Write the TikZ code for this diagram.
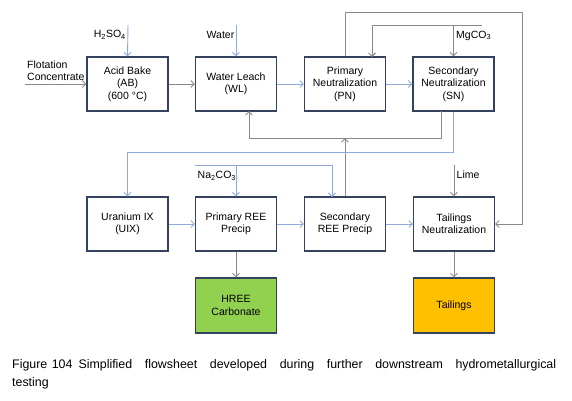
\documentclass[tikz,border=0pt]{standalone}
\usepackage{fontspec}
\setmainfont{Liberation Sans}
\usetikzlibrary{arrows.meta}
\definecolor{boxline}{HTML}{34425F}
\definecolor{grayline}{HTML}{8A8A8A}
\definecolor{blueline}{HTML}{8EAADB}
\definecolor{hreegreen}{HTML}{92D050}
\definecolor{tailorange}{HTML}{FFC000}
\begin{document}
\begin{tikzpicture}[x=1pt,y=-1pt,
  >={Straight Barb[length=3.5pt,width=7pt]},
  proc/.style={draw=boxline,line width=1.1pt,minimum width=81pt,minimum height=54pt,
    inner sep=1pt,align=center,font=\fontsize{10.5}{12.3}\selectfont},
  gline/.style={draw=grayline,line width=0.9pt,->},
  bline/.style={draw=blueline,line width=0.9pt,->},
  lbl/.style={inner sep=0pt,font=\fontsize{10.5}{12.3}\selectfont}]
\useasboundingbox (0,0) rectangle (572,400);
% row 1
\node[proc] (AB) at (127.5,84) {Acid Bake\\(AB)\\(600 °C)};
\node[proc] (WL) at (236,84) {Water Leach\\(WL)};
\node[proc] (PN) at (345,84) {Primary\\Neutralization\\(PN)};
\node[proc] (SN) at (453.5,84) {Secondary\\Neutralization\\(SN)};
% row 2
\node[proc] (UIX) at (127.5,224) {Uranium IX\\(UIX)};
\node[proc] (PREE) at (236,224) {Primary REE\\Precip};
\node[proc] (SREE) at (345,224) {Secondary\\REE Precip};
\node[proc] (TN) at (454,224) {Tailings\\Neutralization};
% row 3
\node[proc,fill=hreegreen,minimum height=55pt] (HREE) at (236,305.5) {HREE\\Carbonate};
\node[proc,fill=tailorange,minimum height=55pt] (TAIL) at (454,305.5) {Tailings};

% feeds
\coordinate (fc) at (25,84);
\node[lbl,anchor=west,align=left] (fclbl) at (27,71) {Flotation\\Concentrate};
\draw[gline] (fc) -- (AB.west);
\coordinate (h2) at (128,25);
\node[lbl,anchor=east] (h2lbl) at (126,35) {H\textsubscript{2}SO\textsubscript{4}};
\draw[bline] (h2) -- (AB.north);
\coordinate (wa) at (236,25);
\node[lbl,anchor=east] (walbl) at (234.5,35) {Water};
\draw[bline] (wa) -- (WL.north);

% row 1 flow
\draw[gline] (AB.east) -- (WL.west);
\draw[bline] (WL.east) -- (PN.west);
\draw[bline] (PN.east) -- (SN.west);

% top loop PN -> TN
\coordinate (t1) at (345,12);
\coordinate (t2) at (522,12);
\draw[gline] (PN.north) -- (t1) -- (t2) |- (TN.east);

% MgCO3
\coordinate (mg) at (482,25);
\coordinate (pnin) at (372,57);
\coordinate (mgs) at (453.5,25);
\draw[gline] (mg) -| (pnin);
\draw[gline] (mgs) -- (SN.north);
\node[lbl,anchor=west] (mglbl) at (456,35.5) {MgCO\textsubscript{3}};

% SN recycle to WL
\coordinate (snout) at (441,111);
\coordinate (rj) at (441,138);
\coordinate (wlin) at (249,111);
\draw[gline] (snout) -- (rj) -| (wlin);
\draw[gline] (SREE.north) -- (SREE.north |- rj);

% SN to UIX
\coordinate (bj) at (453.5,152);
\draw[bline] (SN.south) -- (bj) -| (UIX.north);

% Na2CO3
\coordinate (na) at (195,165);
\coordinate (na2) at (332,165);
\coordinate (sreein) at (332,197);
\coordinate (nap) at (236,165);
\draw[bline] (na) -- (na2) -- (sreein);
\draw[bline] (nap) -- (PREE.north);
\node[lbl,anchor=west] (nalbl) at (197.5,176) {Na\textsubscript{2}CO\textsubscript{3}};

% Lime
\coordinate (li) at (454,165);
\draw[gline] (li) -- (TN.north);
\node[lbl,anchor=west] (lilbl) at (456.5,175) {Lime};

% row 2 flow
\draw[bline] (UIX.east) -- (PREE.west);
\draw[bline] (PREE.east) -- (SREE.west);
\draw[bline] (SREE.east) -- (TN.west);
\draw[gline] (PREE.south) -- (HREE.north);
\draw[gline] (TN.south) -- (TAIL.north);

% caption
\node[anchor=north west,inner sep=0pt,text width=544pt,align=justify,
  font=\fontsize{12.4}{18}\selectfont] (cap) at (12,359)
  {\mbox{Figure\hspace{4.5pt}104\hspace{6pt}Simplified} flowsheet developed during further downstream hydrometallurgical\linebreak testing};
\end{tikzpicture}
\end{document}
